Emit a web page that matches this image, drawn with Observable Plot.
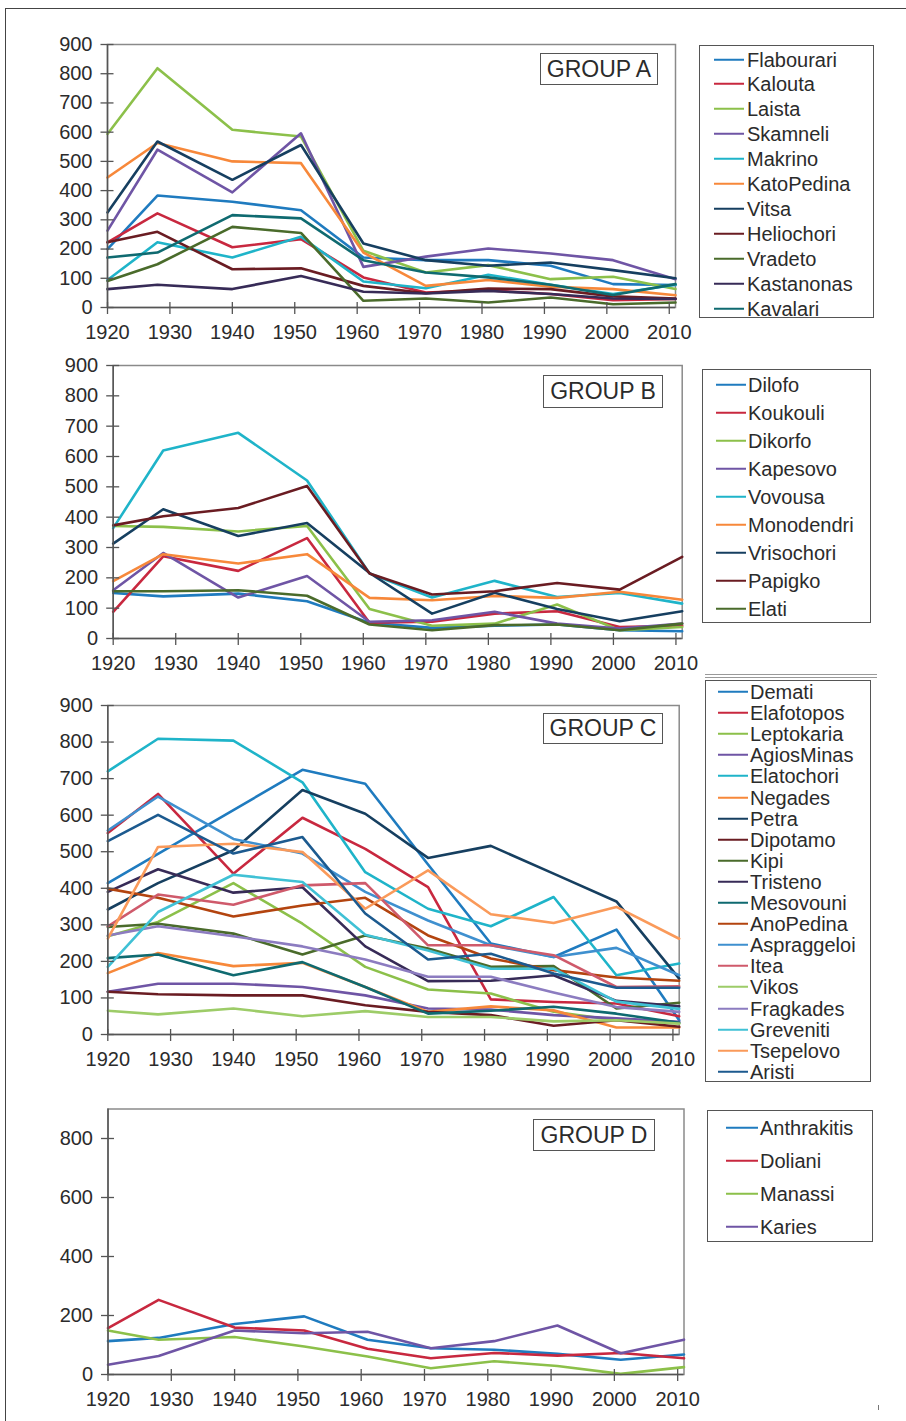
<!DOCTYPE html>
<html><head><meta charset="utf-8">
<script src="https://cdn.jsdelivr.net/npm/d3@7"></script>
<script src="https://cdn.jsdelivr.net/npm/@observablehq/plot@0.6"></script>
<style>
body{margin:0;background:#fff;font-family:"Liberation Sans",Arial,sans-serif;color:#2b2b2b}
#page{position:relative;width:906px;height:1421px;overflow:hidden;background:#fff}
.abs{position:absolute}
.legend{position:absolute;border:1.5px solid #555;box-sizing:border-box;background:#fff}
.row{position:absolute;left:0;right:0;height:0}
.swatch{position:absolute;height:0;border-top:2.5px solid;transform:translateY(-1.25px)}
.lbl{position:absolute;font-size:20px;line-height:20px;transform:translateY(-10px);white-space:nowrap;color:#2b2b2b}
.group{position:absolute;border:1.5px solid #555;box-sizing:border-box;background:#fff;font-size:23px;display:flex;align-items:center;justify-content:center;color:#2b2b2b}
</style></head><body><div id="page"></div>
<script>
// ---------- data ----------
const years = [1920, 1928, 1940, 1951, 1961, 1971, 1981, 1991, 2001, 2011];
const xTicks = [1920, 1930, 1940, 1950, 1960, 1970, 1980, 1990, 2000, 2010];
const yTicksABC = [0, 100, 200, 300, 400, 500, 600, 700, 800, 900];
const yTicksD = [0, 200, 400, 600, 800];

const namesA = ["Flabourari","Kalouta","Laista","Skamneli","Makrino","KatoPedina","Vitsa","Heliochori","Vradeto","Kastanonas","Kavalari"];
const Flabourari = [200, 383, 362, 333, 171, 162, 162, 143, 80, 77];
const Kalouta    = [223, 322, 206, 234, 103, 51, 59, 46, 25, 29];
const Laista     = [594, 819, 608, 585, 194, 120, 145, 97, 105, 63];
const Skamneli   = [263, 540, 394, 596, 139, 174, 202, 185, 162, 97];
const Makrino    = [94, 223, 171, 242, 89, 66, 112, 78, 46, 78];
const KatoPedina = [445, 563, 500, 494, 188, 74, 94, 71, 63, 42];
const Vitsa      = [325, 568, 437, 556, 219, 162, 143, 154, 128, 100];
const Heliochori = [223, 259, 131, 134, 74, 49, 65, 63, 38, 31];
const Vradeto    = [91, 148, 276, 255, 23, 31, 17, 34, 11, 17];
const Kastanonas = [63, 78, 63, 108, 54, 48, 57, 46, 31, 29];
const Kavalari   = [171, 188, 316, 305, 162, 120, 103, 78, 43, 80];
const seriesA = [Flabourari, Kalouta, Laista, Skamneli, Makrino, KatoPedina, Vitsa, Heliochori, Vradeto, Kastanonas, Kavalari];

const namesB = ["Dilofo","Koukouli","Dikorfo","Kapesovo","Vovousa","Monodendri","Vrisochori","Papigko","Elati"];
const Dilofo     = [150, 139, 148, 123, 52, 35, 42, 46, 27, 24];
const Koukouli   = [88, 271, 223, 331, 52, 55, 82, 90, 38, 42];
const Dikorfo    = [371, 368, 353, 371, 97, 42, 49, 112, 27, 38];
const Kapesovo   = [159, 282, 135, 206, 55, 60, 88, 49, 33, 49];
const Vovousa    = [364, 620, 678, 521, 214, 135, 190, 137, 150, 115];
const Monodendri = [189, 278, 247, 278, 134, 126, 140, 134, 154, 128];
const Vrisochori = [313, 426, 338, 381, 216, 82, 151, 97, 57, 90];
const Papigko    = [373, 403, 430, 503, 214, 145, 156, 183, 161, 269];
const Elati      = [156, 156, 159, 141, 46, 27, 44, 46, 27, 49];
const seriesB = [Dilofo, Koukouli, Dikorfo, Kapesovo, Vovousa, Monodendri, Vrisochori, Papigko, Elati];

const namesC = ["Demati","Elafotopos","Leptokaria","AgiosMinas","Elatochori","Negades","Petra","Dipotamo","Kipi","Tristeno","Mesovouni","AnoPedina","Aspraggeloi","Itea","Vikos","Fragkades","Greveniti","Tsepelovo","Aristi"];
const Demati      = [414, 494, 614, 724, 686, 465, 249, 212, 287, 39];
const Elafotopos  = [551, 658, 440, 593, 508, 403, 96, 89, 85, 50];
const Leptokaria  = [269, 308, 414, 303, 185, 123, 112, 62, 39, 30];
const AgiosMinas  = [117, 139, 139, 130, 107, 71, 68, 53, 44, 35];
const Elatochori  = [720, 809, 804, 690, 444, 344, 296, 376, 162, 194];
const Negades     = [168, 223, 187, 196, 130, 62, 77, 66, 19, 19];
const Petra       = [342, 414, 504, 669, 604, 483, 516, 440, 364, 153];
const Dipotamo    = [117, 110, 107, 107, 80, 62, 53, 24, 39, 21];
const Kipi        = [294, 303, 276, 219, 271, 235, 185, 187, 71, 87];
const Tristeno    = [390, 452, 388, 403, 241, 146, 147, 162, 92, 77];
const Mesovouni   = [209, 219, 162, 198, 130, 57, 65, 76, 57, 32];
const AnoPedina   = [399, 374, 323, 353, 374, 271, 208, 176, 156, 147];
const Aspraggeloi = [558, 651, 535, 495, 390, 312, 244, 212, 237, 162];
const Itea        = [296, 383, 355, 408, 414, 244, 244, 217, 130, 132];
const Vikos       = [65, 55, 71, 50, 64, 48, 48, 36, 39, 30];
const Fragkades   = [271, 296, 269, 241, 205, 158, 158, 115, 75, 62];
const Greveniti   = [185, 335, 437, 417, 273, 230, 180, 180, 90, 70];
const Tsepelovo   = [262, 513, 522, 499, 344, 449, 329, 305, 349, 262];
const Aristi      = [529, 601, 495, 540, 331, 205, 221, 167, 128, 128];
const seriesC = [Demati, Elafotopos, Leptokaria, AgiosMinas, Elatochori, Negades, Petra, Dipotamo, Kipi, Tristeno, Mesovouni, AnoPedina, Aspraggeloi, Itea, Vikos, Fragkades, Greveniti, Tsepelovo, Aristi];

const namesD = ["Anthrakitis","Doliani","Manassi","Karies"];
const Anthrakitis = [113, 124, 171, 197, 118, 89, 84, 70, 50, 68];
const Doliani     = [157, 253, 159, 149, 87, 55, 73, 64, 73, 55];
const Manassi     = [149, 118, 127, 95, 61, 21, 45, 29, 2, 25];
const Karies      = [33, 63, 149, 140, 145, 89, 113, 166, 72, 118];
const seriesD = [Anthrakitis, Doliani, Manassi, Karies];

const palette = ["#1f7bbf","#c8283f","#8cc04a","#6f55a5","#1fb4c9","#f7883a","#163f60","#6a1c22","#4a6b2b","#372b57","#0f6a70","#b3440f","#3f90cf","#cf5a6b","#9dcc68","#8c7cc0","#40c1d5","#fa9a5a","#1c5a8f"];

// ---------- drawing ----------
const page = document.getElementById("page");
function el(tag, cls, style, text) {
  const e = document.createElement(tag);
  if (cls) e.className = cls;
  Object.assign(e.style, style || {});
  if (text != null) e.textContent = text;
  return e;
}

// outer border
page.appendChild(el("div", "abs", {left:"5px", top:"8px", width:"1000px", height:"1500px", borderLeft:"1.5px solid #444", borderTop:"1.5px solid #444"}));
// separator double rule
page.appendChild(el("div", "abs", {left:"705px", top:"674px", width:"172px", height:"2px", borderTop:"1px solid #999", borderBottom:"1px solid #999"}));
page.appendChild(el("div", "abs", {left:"878px", top:"1405px", width:"1px", height:"5px", background:"#777"}));

function panel(cfg) {
  const rows = [];
  cfg.names.forEach((n, i) => cfg.series[i].forEach((v, j) => rows.push({name: n, year: years[j], value: v})));
  const ff = "Liberation Sans, Arial, sans-serif";
  const chart = Plot.plot({
    width: 700, height: cfg.H,
    marginLeft: cfg.ml, marginRight: cfg.mr, marginTop: cfg.mt, marginBottom: cfg.mb,
    style: {background: "transparent", fontFamily: ff, fontSize: "20px", color: "#2b2b2b", overflow: "visible"},
    x: {domain: [1920, 2011]},
    y: {domain: [0, 900]},
    color: {domain: cfg.names, range: palette},
    marks: [
      Plot.frame({stroke: "#8a8a8a", strokeWidth: 1.5}),
      Plot.line(rows, {x: "year", y: "value", z: "name", stroke: "name", strokeWidth: 2.6, strokeLinejoin: "round"}),
      Plot.ruleX([1920], {stroke: "#555", strokeWidth: 1.5}),
      Plot.ruleY([0], {stroke: "#555", strokeWidth: 1.5}),
      Plot.axisX(xTicks, {tickSize: 12, dy: -5, fill: "none", stroke: "#555", strokeWidth: 1.3, label: null}),
      Plot.axisX(xTicks, {tickSize: 0, tickPadding: 17, stroke: "none", fill: "#2b2b2b", fontSize: 20, fontFamily: ff, tickFormat: d => String(d), label: null}),
      Plot.axisY(cfg.yTicks, {tickSize: 13, dx: 6.5, fill: "none", stroke: "#555", strokeWidth: 1.3, label: null}),
      Plot.axisY(cfg.yTicks, {tickSize: 0, tickPadding: 15, stroke: "none", fill: "#2b2b2b", fontSize: 20, fontFamily: ff, tickFormat: d => String(d), label: null})
    ]
  });
  const wrap = el("div", "abs", {left: "0px", top: cfg.top + "px"});
  wrap.appendChild(chart);
  page.appendChild(wrap);

  const g = cfg.group;
  page.appendChild(el("div", "group", {left: g.x + "px", top: g.y + "px", width: g.w + "px", height: g.h + "px"}, g.text));

  const L = cfg.legend;
  const box = el("div", "legend", {left: L.x + "px", top: L.y + "px", width: L.w + "px", height: L.h + "px"});
  cfg.names.forEach((n, i) => {
    const cy = L.first + L.step * i - L.y;
    const row = el("div", "row", {top: cy + "px"});
    row.appendChild(el("div", "swatch", {left: (L.sx1 - L.x) + "px", width: (L.sx2 - L.sx1) + "px", borderTopColor: palette[i]}));
    row.appendChild(el("div", "lbl", {left: (L.tx - L.x) + "px"}, n));
    box.appendChild(row);
  });
  page.appendChild(box);
}

panel({names: namesA, series: seriesA, yTicks: yTicksABC, top: 20, H: 327, ml: 107, mr: 25, mt: 24, mb: 40,
  group: {x: 540, y: 53, w: 118, h: 32, text: "GROUP A"},
  legend: {x: 699, y: 45, w: 175, h: 273, first: 58.5, step: 24.9, sx1: 713, sx2: 743, tx: 746}});
panel({names: namesB, series: seriesB, yTicks: yTicksABC, top: 345, H: 333, ml: 112.7, mr: 18.3, mt: 20, mb: 40,
  group: {x: 543, y: 375, w: 120, h: 33, text: "GROUP B"},
  legend: {x: 702, y: 369, w: 169, h: 254, first: 383.5, step: 28, sx1: 715, sx2: 745, tx: 747}});
panel({names: namesC, series: seriesC, yTicks: yTicksABC, top: 685, H: 389, ml: 107.3, mr: 21.3, mt: 20, mb: 40,
  group: {x: 543, y: 713, w: 120, h: 31, text: "GROUP C"},
  legend: {x: 705, y: 680, w: 166, h: 402, first: 691, step: 21.1, sx1: 717, sx2: 747, tx: 749}});
panel({names: namesD, series: seriesD, yTicks: yTicksD, top: 1088, H: 326, ml: 107.5, mr: 16.5, mt: 20.5, mb: 40,
  group: {x: 533, y: 1119, w: 122, h: 32, text: "GROUP D"},
  legend: {x: 707, y: 1110, w: 166, h: 132, first: 1126.5, step: 33, sx1: 725, sx2: 757, tx: 759}});
</script></body></html>
